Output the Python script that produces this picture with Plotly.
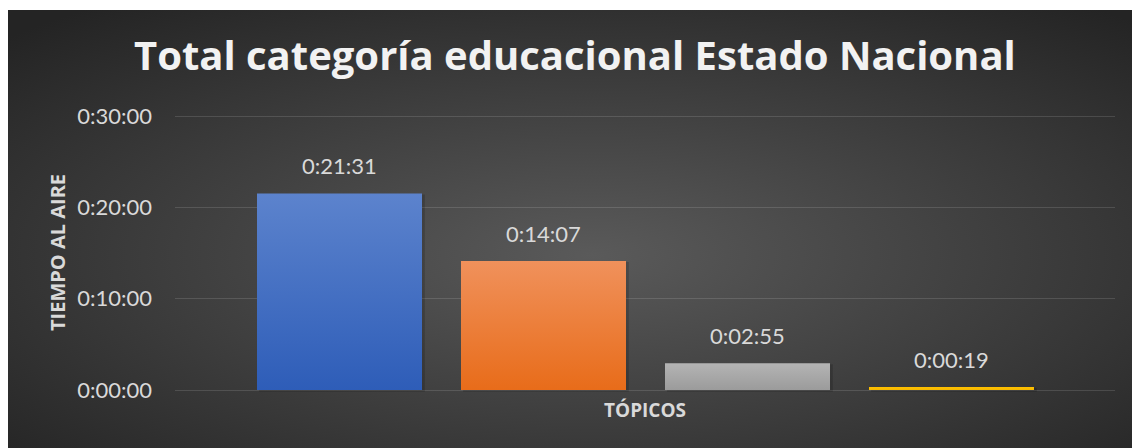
import base64
import plotly.graph_objects as go

# Air time per topic, in seconds
topics = ["Tópico 1", "Tópico 2", "Tópico 3", "Tópico 4"]
seconds = [1291, 847, 175, 19]
# Bar fills: (bottom colour, top colour)
bar_colors = [("#2e5db8", "#5c83cd"), ("#e86c1a", "#f0915b"),
              ("#9b9b9b", "#b4b4b4"), ("#f5b800", "#ffc000")]
tick_vals = [0, 600, 1200, 1800]
tick_text = ["0:00:00", "0:10:00", "0:20:00", "0:30:00"]

W, H = 1132, 448
EXTRA = 4  # pixels of slack above and below the value range
L, R, T, B = 175, 17, 116 - EXTRA, 58 - EXTRA
PAD = EXTRA * 1800 / 274
FONT = "Lato"
BOLD = "Open Sans"
TXT = "#d9d9d9"


def hms(s):
    return f"{s // 3600}:{(s % 3600) // 60:02d}:{s % 60:02d}"


fig = go.Figure()

half = 0.4044
for i, (name, v) in enumerate(zip(topics, seconds)):
    c0, c1 = bar_colors[i]
    # soft drop shadow
    fig.add_trace(go.Scatter(
        x=[i - half + 0.01, i + half + 0.014, i + half + 0.014, i - half + 0.01, i - half + 0.01],
        y=[-12, -12, v - 6, v - 6, -12],
        fill="toself", fillcolor="rgba(0,0,0,0.16)", mode="none",
        hoverinfo="skip", showlegend=False))
    fig.add_trace(go.Scatter(
        x=[i - half, i + half, i + half, i - half, i - half],
        y=[0, 0, v, v, 0],
        fill="toself", mode="none", name=name, showlegend=False,
        fillgradient=dict(type="vertical", start=0, stop=v,
                          colorscale=[[0, c0], [1, c1]]),
    ))
    fig.add_annotation(x=i, y=v, xref="x", yref="y", text=hms(v),
                       showarrow=False, yanchor="bottom", yshift=12,
                       font=dict(family=FONT, size=22, color=TXT))

# radial background panel
svg = (
    "<svg xmlns='http://www.w3.org/2000/svg' width='1124' height='438' "
    "viewBox='0 0 1124 438' preserveAspectRatio='none'>"
    "<defs><radialGradient id='g' cx='0.52' cy='0.56' r='0.72'>"
    "<stop offset='0' stop-color='#5a5a5a'/>"
    "<stop offset='1' stop-color='#242424'/>"
    "</radialGradient></defs>"
    "<rect width='1124' height='438' fill='url(#g)'/></svg>"
)
src = "data:image/svg+xml;base64," + base64.b64encode(svg.encode()).decode()
pw, ph = W - L - R, H - T - B


def px(x):
    return (x - L) / pw


def py(y):
    return (H - B - y) / ph


fig.add_layout_image(source=src, xref="paper", yref="paper",
                     x=px(8), y=py(10), sizex=px(W) - px(8), sizey=py(10) - py(H),
                     xanchor="left", yanchor="top", sizing="stretch", layer="below")

fig.add_annotation(text="Total categoría educacional Estado Nacional",
                   xref="paper", yref="paper", x=px(575), y=py(55),
                   showarrow=False, xanchor="center", yanchor="middle",
                   font=dict(family=BOLD, size=40, color="#f2f2f2", weight="bold"))
fig.add_annotation(text="TIEMPO AL AIRE", xref="paper", yref="paper",
                   x=px(57), y=py(253), textangle=-90, showarrow=False,
                   xanchor="center", yanchor="middle",
                   font=dict(family=BOLD, size=20, color=TXT, weight="bold"))
fig.add_annotation(text="TÓPICOS", xref="paper", yref="paper",
                   x=px(645), y=py(410), showarrow=False,
                   xanchor="center", yanchor="middle",
                   font=dict(family=BOLD, size=19, color=TXT, weight="bold"))

fig.update_layout(
    width=W, height=H,
    margin=dict(l=L, r=R, t=T, b=B),
    paper_bgcolor="white", plot_bgcolor="rgba(0,0,0,0)",
    showlegend=False,
    xaxis=dict(range=[-0.8064, 3.8015], showgrid=False, zeroline=False,
               showticklabels=False, fixedrange=True),
    yaxis=dict(range=[-PAD, 1800 + PAD], tickvals=tick_vals, ticktext=tick_text,
               showgrid=True, gridcolor="rgba(255,255,255,0.13)", gridwidth=1,
               zeroline=False, ticklabelstandoff=22,
               tickfont=dict(family=FONT, size=22, color=TXT), fixedrange=True),
)

fig.write_html("out.html")
